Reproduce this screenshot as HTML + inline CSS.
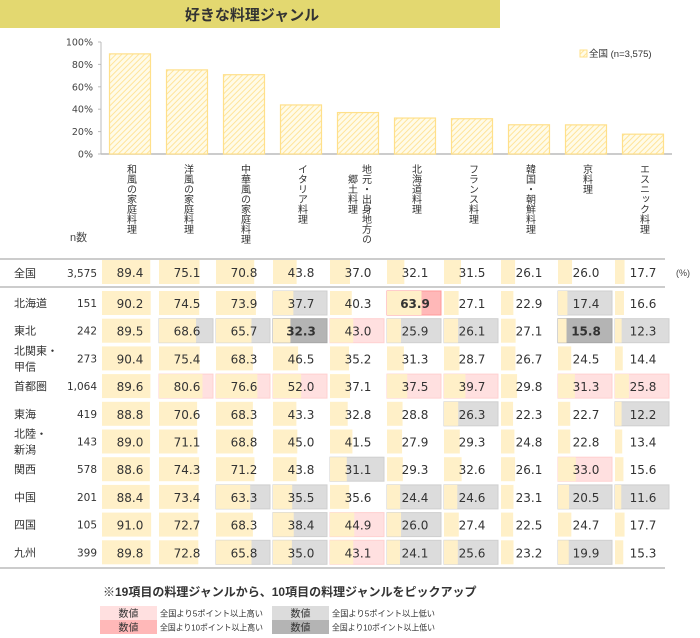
<!DOCTYPE html>
<html><head><meta charset="utf-8">
<style>
body{margin:0;background:#fff;}
svg{display:block;font-family:"Liberation Sans","Noto Sans CJK JP",sans-serif;}
.num{font-family:"DejaVu Sans","Liberation Sans",sans-serif;}
</style></head>
<body>
<svg id="c" width="700" height="638" viewBox="0 0 700 638" xmlns="http://www.w3.org/2000/svg">
<defs>
<pattern id="hatch" width="4" height="4" patternUnits="userSpaceOnUse" patternTransform="rotate(45)">
<rect width="4" height="4" fill="#fffbe8"/><line x1="0" y1="0" x2="0" y2="4" stroke="#ffe49a" stroke-width="2"/>
</pattern>
</defs>
<rect x="0" y="0" width="500" height="28" fill="#e3d870"/>
<text x="252" y="20" text-anchor="middle" font-size="15" font-weight="bold" fill="#333">好きな料理ジャンル</text>
<g id="g"></g>
</svg>
<script>
const categories=["和風の家庭料理","洋風の家庭料理","中華風の家庭料理","イタリア料理","地元・出身地方の|郷土料理","北海道料理","フランス料理","韓国・朝鮮料理","京料理","エスニック料理"];
const nationalValues=[89.4,75.1,70.8,43.8,37.0,32.1,31.5,26.1,26.0,17.7];
const yTicks=[0,20,40,60,80,100];
const regions=["北海道","東北","北関東・|甲信","首都圏","東海","北陸・|新潟","関西","中国","四国","九州"];
const regionN=["151","242","273","1,064","419","143","578","201","105","399"];
const v_hokkaido=[90.2,74.5,73.9,37.7,40.3,63.9,27.1,22.9,17.4,16.6];
const v_tohoku=[89.5,68.6,65.7,32.3,43.0,25.9,26.1,27.1,15.8,12.3];
const v_kitakanto=[90.4,75.4,68.3,46.5,35.2,31.3,28.7,26.7,24.5,14.4];
const v_shutoken=[89.6,80.6,76.6,52.0,37.1,37.5,39.7,29.8,31.3,25.8];
const v_tokai=[88.8,70.6,68.3,43.3,32.8,28.8,26.3,22.3,22.7,12.2];
const v_hokuriku=[89.0,71.1,68.8,45.0,41.5,27.9,29.3,24.8,22.8,13.4];
const v_kansai=[88.6,74.3,71.2,43.8,31.1,29.3,32.6,26.1,33.0,15.6];
const v_chugoku=[88.4,73.4,63.3,35.5,35.6,24.4,24.6,23.1,20.5,11.6];
const v_shikoku=[91.0,72.7,68.3,38.4,44.9,26.0,27.4,22.5,24.7,17.7];
const v_kyushu=[89.8,72.8,65.8,35.0,43.1,24.1,25.6,23.2,19.9,15.3];
const regionValues=[v_hokkaido,v_tohoku,v_kitakanto,v_shutoken,v_tokai,v_hokuriku,v_kansai,v_chugoku,v_shikoku,v_kyushu];

const NS="http://www.w3.org/2000/svg";
const g=document.getElementById('g');
function mk(tag,attrs,txt){const e=document.createElementNS(NS,tag);for(const k in attrs)e.setAttribute(k,attrs[k]);if(txt!==undefined)e.textContent=txt;g.appendChild(e);return e;}
const y0=154,yTop=42;
const yScale=v=>y0-(v/100)*(y0-yTop);
const colX=i=>130+57*i;
const rowY=i=>303+27.7*i;
const cellW=54;

let ax=mk('line',{x1:101,y1:yTop,x2:101,y2:y0,stroke:'#bbb'});


let bx=mk('line',{x1:101,y1:y0,x2:672,y2:y0,stroke:'#bbb','stroke-width':1.5});


yTicks.forEach(t=>{
  let y=yScale(t);
  let tk=mk('line',{x1:98,y1:y,x2:101,y2:y,stroke:'#bbb'});
  
  
  let tl=mk('text',{x:93,y:y+3.5,'text-anchor':'end','font-size':9.5,fill:'#444',class:'num'},t+'%');
  
  
});
nationalValues.forEach((v,i)=>{
  let y=yScale(v);
  let b=mk('rect',{x:colX(i)-20.5,y:y,width:41,height:y0-y,fill:'url(#hatch)',stroke:'#ffe08a','stroke-width':1.2});
  
  
  const parts=categories[i].split('|');
  parts.forEach((p,j)=>{
    const x=colX(i)+(parts.length>1?(j===0?7:-7):0);
    const yy=(parts.length>1&&j===1)?174:164;
    let t=mk('text',{x:x,y:yy,'font-size':10,fill:'#333','writing-mode':'vertical-rl','dominant-baseline':'central'},p);
    
    
  });
});
let lg=mk('rect',{x:580,y:50,width:7,height:7,fill:'url(#hatch)',stroke:'#ffe08a'});


let lt=mk('text',{x:589,y:57,'font-size':9.5,fill:'#333'},'全国 (n=3,575)');



let nl=mk('text',{x:70,y:241,'font-size':11,fill:'#444'},'n数');



[259,287,568].forEach(y=>{
  let l=mk('line',{x1:0,y1:y,x2:665,y2:y,stroke:'#ccc','stroke-width':2});
  
  
});

function drawCell(x,y,v,diff){
  let lvl=0;
  if(diff!==null){if(diff>=10)lvl=2;else if(diff>=5)lvl=1;else if(diff<=-10)lvl=-2;else if(diff<=-5)lvl=-1;}
  const left=x-28,top=y-12,h=24;
  if(lvl!==0){
    const fill={1:'#ffe0e0',2:'#ffb8b8','-1':'#dcdcdc','-2':'#b4b4b4'}[lvl];
    const st={1:'#ffd0d0',2:'#ff9a9a','-1':'#cfcfcf','-2':'#a8a8a8'}[lvl];
    let bg=mk('rect',{x:left,y:top,width:cellW,height:h,fill:fill,stroke:st,'stroke-width':1});
    
    
  }
  let bar=mk('rect',{x:left,y:top,width:cellW*v/100,height:h,fill:'#fff0c8'});
  
  
  let t=mk('text',{x:x,y:y+5,'text-anchor':'middle','font-size':12,fill:'#333',class:'num','font-weight':Math.abs(lvl)===2?'bold':'normal'},v.toFixed(1));
  
  
}
let nr=mk('text',{x:14,y:277,'font-size':11,fill:'#333'},'全国');


let nn=mk('text',{x:97,y:277,'text-anchor':'end','font-size':10.5,fill:'#333',class:'num'},'3,575');


nationalValues.forEach((v,i)=>drawCell(colX(i),272,v,null));
let pc=mk('text',{x:676,y:276,'font-size':9,fill:'#444'},'(%)');



regions.forEach((r,ri)=>{
  const y=rowY(ri);
  const parts=r.split('|');
  parts.forEach((p,j)=>{
    const yy=parts.length>1?y-8+j*16+4:y+4;
    let t=mk('text',{x:14,y:yy,'font-size':11,fill:'#333'},p);
    
    
  });
  let n=mk('text',{x:97,y:y+4,'text-anchor':'end','font-size':10.5,fill:'#333',class:'num'},regionN[ri]);
  
  
  regionValues[ri].forEach((v,i)=>drawCell(colX(i),y,v,v-nationalValues[i]));
});

let note=mk('text',{x:103,y:596,'font-size':12,'font-weight':'bold',fill:'#333'},'※19項目の料理ジャンルから、10項目の料理ジャンルをピックアップ');


const keys=[[100,606,'#ffe0e0','全国より5ポイント以上高い'],[100,620,'#ffb8b8','全国より10ポイント以上高い'],[272,606,'#dcdcdc','全国より5ポイント以上低い'],[272,620,'#b4b4b4','全国より10ポイント以上低い']];
keys.forEach(k=>{
  let r=mk('rect',{x:k[0],y:k[1],width:57,height:14,fill:k[2]});
  
  
  let t=mk('text',{x:k[0]+28.5,y:k[1]+11,'text-anchor':'middle','font-size':10,fill:'#333'},'数値');
  
  
  let d=mk('text',{x:k[0]+60,y:k[1]+10.5,'font-size':8.5,fill:'#333',textLength:k[3].length>12?103:96,lengthAdjust:'spacingAndGlyphs'},k[3]);
  
  
});
</script>
</body></html>
